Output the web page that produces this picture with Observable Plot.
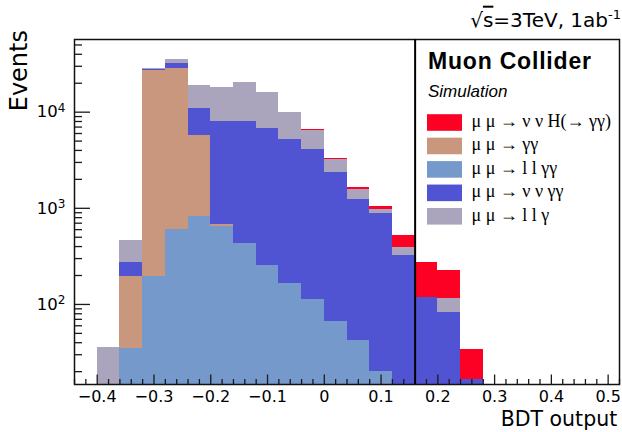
<!DOCTYPE html>
<html>
<head>
<meta charset="utf-8">
<script src="https://cdn.jsdelivr.net/npm/d3@7"></script>
<script src="https://cdn.jsdelivr.net/npm/@observablehq/plot@0.6"></script>
<style>
  html, body { margin: 0; padding: 0; background: #fff; }
  #chart { width: 622px; height: 432px; }
</style>
</head>
<body>
<div id="chart"></div>
<script>
// ---------- data ----------
const binLow = [-0.40, -0.36, -0.32, -0.28, -0.24, -0.20, -0.16, -0.12, -0.08, -0.04, 0.00, 0.04, 0.08, 0.12, 0.16, 0.20, 0.24];
const binWidth = 0.04;

// stacked from bottom to top
const llgg   = [0, 35, 196, 600, 824, 641, 427, 255, 164, 113, 66, 42, 20, 0, 0, 0, 0];          // μμ → llγγ
const gg     = [0, 158, 26940, 28070, 4860, 39, 0, 0, 0, 0, 0, 0, 0, 0, 0, 0, 0];                // μμ → γγ
const nngg   = [0, 81, 850, 3180, 5170, 7326, 7580, 6467, 5013, 3963, 2278, 1187, 871, 324, 119, 83, 16.5]; // μμ → ννγγ
const llg    = [36, 189, 200, 3710, 8240, 10050, 12500, 9110, 4823, 2424, 857, 343, 76, 65, 0, 31.5, 0]; // μμ → llγ
const signal = [0, 0, 0, 0, 0, 0, 0, 0, 30, 140, 77, 89, 80, 134, 157, 110, 17.7];              // μμ → ννH(→γγ)

const stackOrder   = ["llgg", "gg", "nngg", "llg", "signal"];
const seriesValues = {llgg, gg, nngg, llg, signal};
const seriesColors = {signal: "#fd0124", gg: "#c8977e", llgg: "#7699cc", nngg: "#5154d2", llg: "#aaa4bd"};
const legendOrder  = ["signal", "gg", "llgg", "nngg", "llg"];
const legendLabels = {
  signal: "μ μ → ν ν H(→ γγ)",
  gg:     "μ μ → γγ",
  llgg:   "μ μ → l l γγ",
  nngg:   "μ μ → ν ν γγ",
  llg:    "μ μ → l l γ"
};

const xTicks = [-0.4, -0.3, -0.2, -0.1, 0, 0.1, 0.2, 0.3, 0.4, 0.5];
const xTickLabels = ["−0.4", "−0.3", "−0.2", "−0.1", "0", "0.1", "0.2", "0.3", "0.4", "0.5"];
const yTicks = [100, 1000, 10000];
const yTickBase = "10";
const yTickExp = ["2", "3", "4"];
const cutValue = [0.16];
const xDomain = [-0.44, 0.52];
const yDomain = [14.7, 57000];

const titleRoot = "√";
const titleS = "s";
const titleRest = "=3TeV, 1ab";
const titleSup = "-1";
const xLabel = "BDT output";
const yLabel = "Events";
const headerText = "Muon Collider";
const subText = "Simulation";

// ---------- layout ----------
const W = 622, H = 432;
const mL = 74, mR = 3, mT = 39, mB = 48;
const innerW = W - mL - mR, innerH = H - mT - mB;

// ---------- stacking ----------
const rows = [];
binLow.forEach((lo, i) => {
  let cum = 0;
  stackOrder.forEach(key => {
    const v = seriesValues[key][i];
    if (v > 0) {
      rows.push({x1: lo, x2: lo + binWidth, y1: cum > 0 ? cum : yDomain[0], y2: cum + v, key});
      cum += v;
    }
  });
});

// minor ticks
const xMinor = d3.range(-22, 27).map(k => +(k * 0.02).toFixed(2)).filter(v => v >= xDomain[0] && v <= xDomain[1] && !xTicks.some(t => Math.abs(t - v) < 1e-9));
const yMinor = [];
[1, 2, 3, 4].forEach(p => { for (let m = 2; m <= 9; m++) { const v = m * 10 ** p; if (v > yDomain[0] && v < yDomain[1]) yMinor.push(v); } });

const tickColor = "#1a1a1a";

const plot = Plot.plot({
  width: W, height: H,
  marginLeft: mL, marginRight: mR, marginTop: mT, marginBottom: mB,
  style: {fontFamily: "DejaVu Sans, sans-serif", fontSize: "16px", color: "#000", background: "#fff"},
  x: {domain: xDomain, axis: null},
  y: {type: "log", domain: yDomain, axis: null},
  marks: [
    Plot.rect(rows, {x1: "x1", x2: "x2", y1: "y1", y2: "y2", fill: d => seriesColors[d.key], shapeRendering: "crispEdges"}),
    // y ticks (inward)
    Plot.tickY(yTicks, {y: d => d, stroke: tickColor, strokeWidth: 1.3, insetRight: innerW - 16}),
    Plot.tickY(yMinor, {y: d => d, stroke: tickColor, strokeWidth: 1.3, insetRight: innerW - 8}),
    // x ticks (inward)
    Plot.tickX(xTicks, {x: d => d, stroke: tickColor, strokeWidth: 1.3, insetTop: innerH - 9.5}),
    Plot.tickX(xMinor, {x: d => d, stroke: tickColor, strokeWidth: 1.3, insetTop: innerH - 5}),
    Plot.frame({stroke: "#111", strokeWidth: 1.5}),
    Plot.ruleX(cutValue, {x: d => d, stroke: "#000", strokeWidth: 2}),
    Plot.axisY({ticks: yTicks, tickSize: 0, tickPadding: 9, tickFormat: d => yTickBase + yTickExp[yTicks.indexOf(d)], fontSize: 16.5, label: null}),
    Plot.axisX({ticks: xTicks, tickSize: 0, tickPadding: 6.5, tickFormat: d => xTickLabels[xTicks.findIndex(t => Math.abs(t - d) < 1e-9)], fontSize: 16, label: null}),
    Plot.text([xLabel], {text: d => d, frameAnchor: "bottom-right", textAnchor: "end", lineAnchor: "bottom", dx: -2.3, dy: 41, fontSize: 20.5}),
    Plot.text([yLabel], {text: d => d, frameAnchor: "top-left", rotate: -90, textAnchor: "end", lineAnchor: "middle", dx: -55, dy: -9.5, fontSize: 24})
  ]
});

document.getElementById("chart").appendChild(plot);

const svg = d3.select(plot);

// y tick labels as 10 with a raised exponent
svg.selectAll('g[aria-label="y-axis tick label"] text').each(function () {
  const t = d3.select(this);
  const full = t.text();
  const exp = full.slice(yTickBase.length);
  t.text(yTickBase);
  t.append("tspan").attr("font-size", 12).attr("dy", "-0.45em").text(exp);
});

// ---------- title, legend and labels ----------
const g = svg.append("g").attr("text-anchor", "start").attr("fill", "#000");

const title = g.append("text").attr("x", 621).attr("y", 26.7).attr("text-anchor", "end")
  .attr("font-family", "DejaVu Sans, sans-serif").attr("font-size", 20);
title.append("tspan").text(titleRoot);
title.append("tspan").attr("text-decoration", "overline").style("text-decoration", "overline").text(titleS);
title.append("tspan").text(titleRest);
title.append("tspan").attr("font-size", 13).attr("dy", -8).text(titleSup);

g.append("text").attr("x", 428).attr("y", 68.5)
  .attr("font-family", "Liberation Sans, Arial, sans-serif").attr("font-weight", "bold")
  .attr("font-size", 23).attr("letter-spacing", "0.8px").text(headerText);
g.append("text").attr("x", 428).attr("y", 96.5)
  .attr("font-family", "Liberation Sans, Arial, sans-serif").attr("font-style", "italic")
  .attr("font-size", 17).text(subText);
legendOrder.forEach((key, i) => {
  const cy = 122.5 + 23.45 * i;
  g.append("rect").attr("x", 427).attr("y", cy - 8.3).attr("width", 35).attr("height", 16.6)
    .attr("fill", seriesColors[key]);
  g.append("text").attr("x", 471.5).attr("y", cy + 4.5)
    .attr("font-family", "Liberation Serif, Times New Roman, serif")
    .attr("font-size", 18).text(legendLabels[key]);
});
</script>
</body>
</html>
